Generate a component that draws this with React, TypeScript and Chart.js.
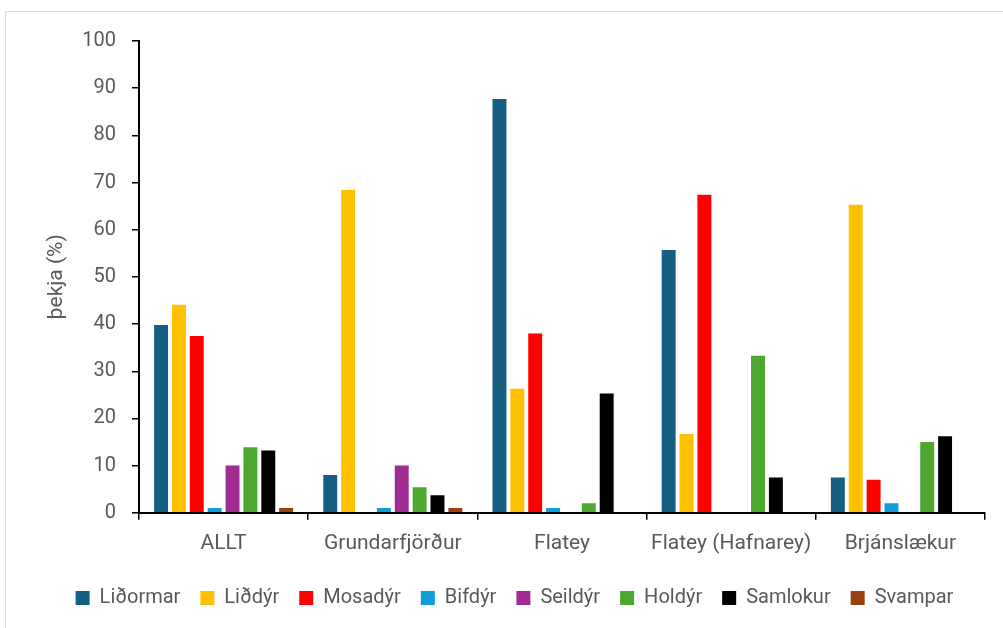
import React, { useEffect, useRef } from "react";
import { Chart, registerables } from "chart.js";

Chart.register(...registerables);

const categories = ["ALLT", "Grundarfjörður", "Flatey", "Flatey (Hafnarey)", "Brjánslækur"];
const seriesNames = ["Liðormar", "Liðdýr", "Mosadýr", "Bifdýr", "Seildýr", "Holdýr", "Samlokur", "Svampar"];
const seriesColors = ["#156082", "#FFC000", "#FF0000", "#0F9ED5", "#A02B93", "#4EA72E", "#000000", "#974012"];

const lidormar = [39.8, 8.0, 87.7, 55.7, 7.5];
const liddyr = [44.1, 68.4, 26.3, 16.7, 65.3];
const mosadyr = [37.5, 0, 38.0, 67.4, 7.0];
const bifdyr = [1.0, 1.0, 1.0, 0, 2.0];
const seildyr = [10.0, 10.0, 0, 0, 0];
const holdyr = [13.9, 5.4, 2.0, 33.3, 15.0];
const samlokur = [13.2, 3.7, 25.3, 7.5, 16.2];
const svampar = [1.0, 1.0, 0, 0, 0];

const seriesValues = [lidormar, liddyr, mosadyr, bifdyr, seildyr, holdyr, samlokur, svampar];

const yTicks = [0, 10, 20, 30, 40, 50, 60, 70, 80, 90, 100];
const yTitle = "þekja (%)";

const FONT = "Roboto, 'Noto Sans', sans-serif";
const GREY = "#595959";

export default function App() {
  const ref = useRef<HTMLCanvasElement | null>(null);
  useEffect(() => {
    if (!ref.current) return;
    const chart = new Chart(ref.current, {
      type: "bar",
      data: {
        labels: categories,
        datasets: seriesNames.map((name, i) => ({
          label: name,
          data: seriesValues[i],
          backgroundColor: seriesColors[i],
          borderWidth: 0,
          barPercentage: 0.78,
          categoryPercentage: 0.845,
        })),
      },
      options: {
        animation: false,
        responsive: false,
        maintainAspectRatio: false,
        layout: { padding: { left: 44, top: 41, right: 18, bottom: 10 } },
        plugins: {
          tooltip: { enabled: false },
          legend: {
            position: "bottom",
            labels: {
              boxWidth: 14,
              boxHeight: 14,
              padding: 20,
              color: GREY,
              font: { family: FONT, size: 20 },
            },
          },
        },
        scales: {
          x: {
            afterFit: (scale: any) => {
              scale.height += 1;
            },
            grid: {
              display: true,
              drawOnChartArea: false,
              drawTicks: true,
              tickLength: 7,
              color: "#000000",
              lineWidth: 1.5,
              offset: true,
            },
            border: { display: true, color: "#000000", width: 2 },
            ticks: {
              color: GREY,
              font: { family: FONT, size: 21 },
              padding: 11,
              maxRotation: 0,
              autoSkip: false,
            },
          },
          y: {
            min: 0,
            max: 100,
            afterBuildTicks: (scale: any) => {
              scale.ticks = yTicks.map((v) => ({ value: v }));
            },
            afterFit: (scale: any) => {
              scale.width = 95;
            },
            grid: {
              display: true,
              drawOnChartArea: false,
              drawTicks: true,
              tickLength: 7,
              color: "#000000",
              lineWidth: 1.5,
            },
            border: { display: true, color: "#000000", width: 2 },
            ticks: {
              color: GREY,
              font: { family: FONT, size: 20 },
              padding: 16,
            },
            title: {
              display: true,
              text: yTitle,
              color: GREY,
              font: { family: FONT, size: 21 },
              padding: { top: 0, bottom: 0 },
            },
          },
        },
      },
    });
    return () => chart.destroy();
  }, []);
  return (
    <div
      style={{
        position: "fixed",
        left: 0,
        top: 0,
        width: 1003,
        height: 628,
        overflow: "hidden",
        background: "#ffffff",
      }}
    >
      <div
        style={{
          position: "absolute",
          left: 5,
          top: 11,
          width: 1100,
          height: 700,
          border: "1.5px solid #d9d9d9",
          boxSizing: "border-box",
        }}
      />
      <canvas ref={ref} width={1003} height={628} style={{ position: "absolute", left: 0, top: 0 }} />
    </div>
  );
}
